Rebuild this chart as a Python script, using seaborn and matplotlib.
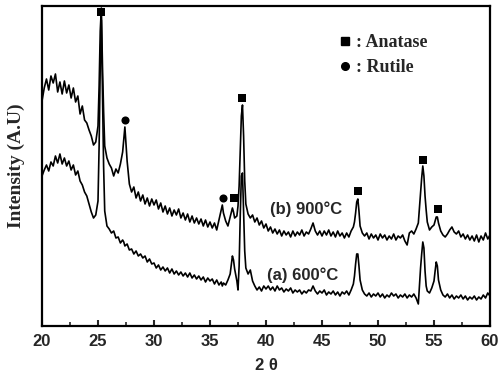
import matplotlib
matplotlib.use("Agg")
import matplotlib.pyplot as plt
import seaborn as sns
from matplotlib.lines import Line2D

# ---------------- data ----------------
two_theta = [
    20.0, 20.2, 20.4, 20.6, 20.8,
    21.0, 21.2, 21.4, 21.6, 21.8,
    22.0, 22.2, 22.4, 22.6, 22.8,
    23.0, 23.2, 23.4, 23.6, 23.8,
    24.0, 24.2, 24.4, 24.6, 24.8,
    25.0, 25.1, 25.2, 25.3, 25.4, 25.5, 25.6, 25.8,
    26.0, 26.2, 26.4, 26.6, 26.8,
    27.0, 27.2, 27.3, 27.4, 27.5, 27.6, 27.8,
    28.0, 28.2, 28.4, 28.6, 28.8,
    29.0, 29.2, 29.4, 29.6, 29.8,
    30.0, 30.2, 30.4, 30.6, 30.8,
    31.0, 31.2, 31.4, 31.6, 31.8,
    32.0, 32.2, 32.4, 32.6, 32.8,
    33.0, 33.2, 33.4, 33.6, 33.8,
    34.0, 34.2, 34.4, 34.6, 34.8,
    35.0, 35.2, 35.4, 35.6, 35.8,
    36.0, 36.1, 36.2, 36.4, 36.6, 36.8,
    37.0, 37.1, 37.2, 37.4, 37.5, 37.6, 37.7, 37.8, 37.9, 38.0, 38.1, 38.2, 38.4,
    38.6, 38.8, 39.0, 39.2, 39.4, 39.6, 39.8,
    40.0, 40.2, 40.4, 40.6, 40.8,
    41.0, 41.2, 41.4, 41.6, 41.8,
    42.0, 42.2, 42.4, 42.6, 42.8,
    43.0, 43.2, 43.4, 43.6, 43.8,
    44.0, 44.2, 44.4, 44.6, 44.8,
    45.0, 45.2, 45.4, 45.6, 45.8,
    46.0, 46.2, 46.4, 46.6, 46.8,
    47.0, 47.2, 47.4, 47.6, 47.8,
    47.9, 48.0, 48.1, 48.2, 48.3, 48.4, 48.6, 48.8,
    49.0, 49.2, 49.4, 49.6, 49.8,
    50.0, 50.2, 50.4, 50.6, 50.8,
    51.0, 51.2, 51.4, 51.6, 51.8,
    52.0, 52.2, 52.4, 52.6, 52.8,
    53.0, 53.2, 53.4, 53.6, 53.7, 53.8, 53.9, 54.0, 54.1, 54.2, 54.3, 54.4, 54.6,
    54.8, 55.0, 55.1, 55.2, 55.3, 55.4, 55.6, 55.8,
    56.0, 56.2, 56.4, 56.6, 56.8,
    57.0, 57.2, 57.4, 57.6, 57.8,
    58.0, 58.2, 58.4, 58.6, 58.8,
    59.0, 59.2, 59.4, 59.6, 59.8, 60.0,
]

intensity_900 = [
    225, 238, 247, 236, 250,
    243, 252, 234, 244, 232,
    245, 233, 241, 228, 238,
    224, 230, 212, 220, 206,
    203, 196, 190, 181, 184,
    200, 240, 295, 318, 260, 215, 180, 168,
    162, 158, 150, 157, 153,
    162, 174, 186, 199, 182, 165, 142,
    134, 139, 128, 134, 125,
    131, 122, 128, 120, 127,
    121, 126, 117, 123, 114,
    120, 112, 118, 110, 116,
    111, 117, 108, 113, 106,
    112, 104, 110, 103, 108,
    102, 107, 100, 106, 99,
    104, 98, 103, 96, 106,
    116, 121, 113, 105, 100, 109,
    118, 114, 108, 110, 120, 140, 175, 210, 221, 190, 145, 122, 112,
    108, 111, 104, 108, 101, 105, 98,
    102, 95, 99, 93, 97,
    92, 96, 90, 95, 91,
    94, 89, 95, 90, 94,
    91, 96, 90, 94, 92,
    97, 103, 95, 91, 95,
    90, 95, 91, 96, 90,
    94, 89, 95, 90, 93,
    88, 93, 89, 95, 99,
    104, 113, 124, 127, 115, 100, 93, 90,
    93, 87, 92, 88, 91,
    86, 92, 88, 91, 86,
    90, 87, 92, 86, 90,
    88, 91, 85, 81, 93,
    95, 92, 97, 103, 118, 132, 148, 160, 150, 130, 116, 104, 96,
    99, 101, 105, 109, 109, 103, 95, 91,
    89, 92, 96, 99, 94,
    92, 95, 89, 92, 87,
    91, 86, 90, 85, 91,
    84, 90, 86, 93, 87, 91,
]

intensity_600 = [
    150, 156, 161, 155, 164,
    160, 170, 163, 172, 162,
    168, 160, 165, 156, 161,
    151, 155, 145, 141, 134,
    130, 122, 114, 108, 111,
    125, 180, 260, 306, 230, 160, 115, 100,
    97, 93, 95, 88, 89,
    83, 86, 84, 80, 81, 82, 76,
    77, 72, 75, 70, 72,
    68, 70, 64, 67, 62,
    63, 58, 61, 56, 59,
    55, 58, 53, 57, 52,
    55, 51, 54, 50, 53,
    49, 53, 48, 51, 47,
    50, 46, 49, 44, 48,
    45, 47, 42, 46, 41,
    44, 40, 43, 41, 46, 52,
    70, 66, 57, 45, 36, 60, 110, 150, 153, 115, 75, 58, 52,
    56, 45, 40, 36, 39, 35, 40,
    37, 40, 36, 39, 35,
    40, 36, 38, 34, 37,
    35, 38, 33, 36, 34,
    36, 32, 35, 33, 36,
    35, 40, 35, 32, 35,
    33, 36, 31, 34, 32,
    35, 31, 34, 30, 34,
    32, 35, 31, 36, 42,
    50, 62, 72, 72, 60, 46, 36, 32,
    30, 33, 29, 32, 30,
    33, 29, 32, 28, 31,
    29, 33, 30, 32, 28,
    31, 29, 32, 28, 31,
    29, 32, 28, 22, 40, 58, 72, 84, 78, 55, 40, 35, 33,
    38, 45, 55, 64, 60, 46, 36, 31,
    29, 32, 28, 31, 27,
    30, 28, 31, 27, 30,
    26, 29, 27, 30, 26,
    29, 27, 31, 28, 33, 30,
]

anatase_x = [25.3, 37.1, 37.9, 48.25, 54.05, 55.4]
anatase_y = [314, 128, 228, 135, 166, 117]
rutile_x = [27.4, 36.2]
rutile_y = [206, 128]

x_ticks = [20, 25, 30, 35, 40, 45, 50, 55, 60]
label_900 = "(b) 900°C"
label_600 = "(a) 600°C"

# ---------------- plot ----------------
sns.set_style("ticks")
plt.rcParams["font.family"] = ["Liberation Sans", "DejaVu Sans"]

fig = plt.figure(figsize=(5.0, 3.77), dpi=100)
ax = fig.add_axes([0.084, 0.1353, 0.896, 0.8488])

sns.lineplot(x=two_theta, y=intensity_900, ax=ax, color="black", lw=1.2,
             sort=False, estimator=None)
sns.lineplot(x=two_theta, y=intensity_600, ax=ax, color="black", lw=1.2,
             sort=False, estimator=None)

ax.scatter(anatase_x, anatase_y, marker="s", s=30, color="black", zorder=5,
           linewidths=0)
ax.scatter(rutile_x, rutile_y, marker="o", s=34, color="black", zorder=5,
           linewidths=0)

ax.set_xlim(20, 60)
ax.set_ylim(0, 320)
ax.set_xticks(x_ticks)
ax.set_xticks([22.5, 27.5, 32.5, 37.5, 42.5, 47.5, 52.5, 57.5], minor=True)
ax.set_yticks([])
ax.tick_params(axis="x", which="major", direction="in", length=4, width=1.5,
               labelsize=12, pad=6)
ax.tick_params(axis="x", which="minor", direction="in", length=3, width=1.2)
for lab in ax.get_xticklabels():
    lab.set_fontweight("bold")
for s in ax.spines.values():
    s.set_visible(True)
    s.set_linewidth(1.6)
    s.set_color("black")

ax.set_xlabel("2 θ", fontsize=12, fontweight="bold", labelpad=6)
ax.set_ylabel("Intensity (A.U)", fontsize=14, fontweight="bold",
              family=["Liberation Serif", "DejaVu Serif"], labelpad=12)

ax.text(0.508, 0.366, label_900, transform=ax.transAxes, fontsize=12,
        fontweight="bold", ha="left", va="center")
ax.text(0.503, 0.16, label_600, transform=ax.transAxes, fontsize=12,
        fontweight="bold", ha="left", va="center")

handles = [
    Line2D([], [], marker="s", color="black", linestyle="none", markersize=5.5),
    Line2D([], [], marker="o", color="black", linestyle="none", markersize=5.5),
]
leg = ax.legend(handles, [": Anatase", ": Rutile"], loc="upper left",
                bbox_to_anchor=(0.645, 0.94), frameon=False, handlelength=0.6,
                handletextpad=0.3, labelspacing=0.45, borderpad=0,
                prop={"family": ["Liberation Serif", "DejaVu Serif"],
                      "weight": "bold", "size": 13})

fig.savefig("out.png", dpi=100)
